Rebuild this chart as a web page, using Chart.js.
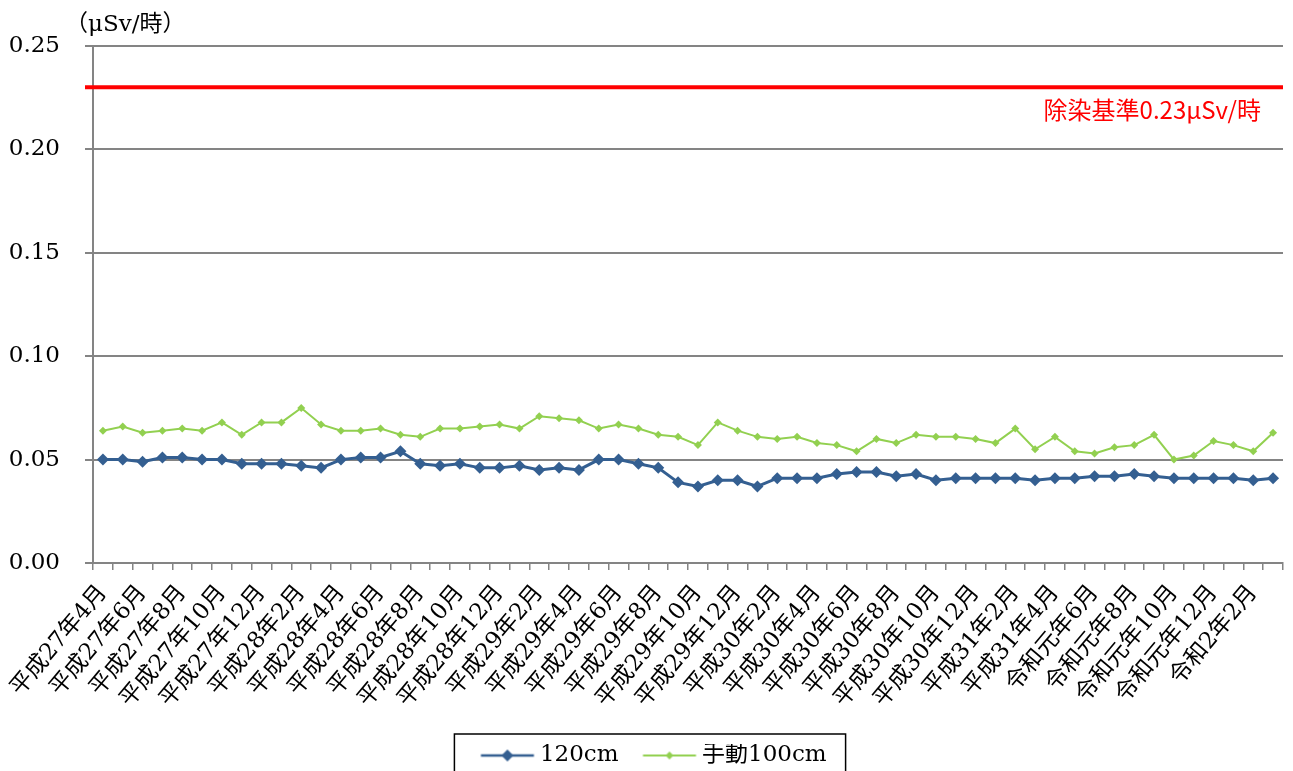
<!DOCTYPE html>
<html lang="ja">
<head>
<meta charset="utf-8">
<title>空間線量率の推移</title>
<script src="https://cdn.jsdelivr.net/npm/chart.js@4.4.1/dist/chart.umd.min.js"></script>
<style>
html, body { margin: 0; padding: 0; background: #fff; }
#wrap { width: 1293px; height: 771px; }
</style>
</head>
<body>
<div id="wrap"><canvas id="dose-chart" width="1293" height="771"></canvas></div>
<script>
// 測定月（平成27年4月〜令和2年3月）
const months = [
    '平成27年4月', '平成27年5月', '平成27年6月', '平成27年7月', '平成27年8月', '平成27年9月',
    '平成27年10月', '平成27年11月', '平成27年12月',
    '平成28年1月', '平成28年2月', '平成28年3月', '平成28年4月', '平成28年5月', '平成28年6月',
    '平成28年7月', '平成28年8月', '平成28年9月', '平成28年10月', '平成28年11月', '平成28年12月',
    '平成29年1月', '平成29年2月', '平成29年3月', '平成29年4月', '平成29年5月', '平成29年6月',
    '平成29年7月', '平成29年8月', '平成29年9月', '平成29年10月', '平成29年11月', '平成29年12月',
    '平成30年1月', '平成30年2月', '平成30年3月', '平成30年4月', '平成30年5月', '平成30年6月',
    '平成30年7月', '平成30年8月', '平成30年9月', '平成30年10月', '平成30年11月', '平成30年12月',
    '平成31年1月', '平成31年2月', '平成31年3月', '平成31年4月',
    '令和元年5月', '令和元年6月', '令和元年7月', '令和元年8月', '令和元年9月', '令和元年10月',
    '令和元年11月', '令和元年12月',
    '令和2年1月', '令和2年2月', '令和2年3月'
];

// 120cm 高さの測定値 (μSv/時)
const dose120 = [
    0.050, 0.050, 0.049, 0.051, 0.051, 0.050, 0.050, 0.048, 0.048, 0.048, 0.047, 0.046, 0.050, 0.051, 0.051,
    0.054, 0.048, 0.047, 0.048, 0.046, 0.046, 0.047, 0.045, 0.046, 0.045, 0.050, 0.050, 0.048, 0.046, 0.039,
    0.037, 0.040, 0.040, 0.037, 0.041, 0.041, 0.041, 0.043, 0.044, 0.044, 0.042, 0.043, 0.040, 0.041, 0.041,
    0.041, 0.041, 0.040, 0.041, 0.041, 0.042, 0.042, 0.043, 0.042, 0.041, 0.041, 0.041, 0.041, 0.040, 0.041
];

// 手動 100cm の測定値 (μSv/時)
const dose100 = [
    0.064, 0.066, 0.063, 0.064, 0.065, 0.064, 0.068, 0.062, 0.068, 0.068, 0.075, 0.067, 0.064, 0.064, 0.065,
    0.062, 0.061, 0.065, 0.065, 0.066, 0.067, 0.065, 0.071, 0.070, 0.069, 0.065, 0.067, 0.065, 0.062, 0.061,
    0.057, 0.068, 0.064, 0.061, 0.060, 0.061, 0.058, 0.057, 0.054, 0.060, 0.058, 0.062, 0.061, 0.061, 0.060,
    0.058, 0.065, 0.055, 0.061, 0.054, 0.053, 0.056, 0.057, 0.062, 0.050, 0.052, 0.059, 0.057, 0.054, 0.063
];

const yTicks = [0, 0.05, 0.10, 0.15, 0.20, 0.25];
const standardLevel = 0.23;
const standardText = '除染基準0.23μSv/時';
const unitText = '（μSv/時）';

const BLUE = '#345f91';
const GREEN = '#92d050';
const GRID = '#848484';
const serif = "'DejaVu Serif', 'Noto Sans CJK JP', serif";

// 凡例用：線＋ひし形マーカーの画像
function legendMarker(color, lineWidth, radius) {
    const c = document.createElement('canvas');
    c.width = 96;
    c.height = 16;
    const g = c.getContext('2d');
    g.strokeStyle = color;
    g.lineWidth = lineWidth;
    g.beginPath();
    g.moveTo(36.5, 8);
    g.lineTo(89.5, 8);
    g.stroke();
    g.fillStyle = color;
    g.beginPath();
    g.moveTo(63, 8 - radius);
    g.lineTo(63 + radius, 8);
    g.lineTo(63, 8 + radius);
    g.lineTo(63 - radius, 8);
    g.closePath();
    g.fill();
    return c;
}

const markers = [legendMarker(BLUE, 2.5, 6), legendMarker(GREEN, 2, 4)];

// 除染基準線、単位、凡例の枠
const decorations = {
    id: 'decorations',
    afterDraw(chart) {
        const { ctx, chartArea, scales } = chart;
        const y = scales.y.getPixelForValue(standardLevel);
        ctx.save();
        ctx.strokeStyle = '#ff0000';
        ctx.lineWidth = 4;
        ctx.beginPath();
        ctx.moveTo(chartArea.left - 8, y);
        ctx.lineTo(chartArea.right, y);
        ctx.stroke();

        ctx.fillStyle = '#ff0000';
        ctx.font = "24px 'Noto Sans CJK JP', sans-serif";
        ctx.textAlign = 'right';
        ctx.textBaseline = 'middle';
        ctx.fillText(standardText, chartArea.right - 22, y + 23);

        ctx.fillStyle = '#000';
        ctx.font = '23px ' + serif;
        ctx.textAlign = 'left';
        ctx.fillText(unitText, chartArea.left - 28, chartArea.top - 21);

        const boxes = chart.legend.legendHitBoxes;
        if (boxes && boxes.length) {
            const first = boxes[0];
            const last = boxes[boxes.length - 1];
            const left = first.left - 2;
            const right = last.left + last.width + 19;
            const top = chart.legend.top - 10;
            ctx.strokeStyle = '#000';
            ctx.lineWidth = 1.5;
            ctx.strokeRect(left, top, right - left, chart.height - top + 10);
        }
        ctx.restore();
    }
};

const ctx = document.getElementById('dose-chart').getContext('2d');
const doseChart = new Chart(ctx, {
    type: 'line',
    data: {
        labels: months,
        datasets: [
            {
                label: '120cm',
                data: dose120,
                borderColor: BLUE,
                backgroundColor: BLUE,
                borderWidth: 3,
                pointStyle: 'rectRot',
                pointRadius: 6,
                pointBorderWidth: 0,
                tension: 0,
                fill: false
            },
            {
                label: '手動100cm',
                data: dose100,
                borderColor: GREEN,
                backgroundColor: GREEN,
                borderWidth: 2,
                pointStyle: 'rectRot',
                pointRadius: 4,
                pointBorderWidth: 0,
                tension: 0,
                fill: false
            }
        ]
    },
    options: {
        responsive: false,
        animation: false,
        layout: { padding: { top: 46, right: 10, left: 0, bottom: -6 } },
        plugins: {
            tooltip: { enabled: false },
            legend: {
                position: 'bottom',
                labels: {
                    usePointStyle: true,
                    pointStyleWidth: 72,
                    padding: 0,
                    color: '#000',
                    font: { family: serif, size: 23 },
                    generateLabels(chart) {
                        const items = Chart.defaults.plugins.legend.labels.generateLabels(chart);
                        items.forEach((item, i) => { item.pointStyle = markers[i]; });
                        return items;
                    }
                }
            }
        },
        scales: {
            x: {
                offset: true,
                grid: {
                    offset: true,
                    drawOnChartArea: false,
                    color: GRID,
                    lineWidth: 1.5,
                    tickLength: 7
                },
                border: { color: GRID, width: 2 },
                ticks: {
                    autoSkip: false,
                    minRotation: 50,
                    maxRotation: 50,
                    padding: 10,
                    color: '#000',
                    font: { family: serif, size: 23 },
                    callback: (value, index) => (index % 2 === 0 ? months[index] : '')
                },
                afterFit(scale) {
                    scale.height = 181;
                    scale.paddingLeft = 0;
                    scale.paddingRight = 0;
                }
            },
            y: {
                min: 0,
                max: 0.25,
                afterBuildTicks(scale) {
                    scale.ticks = yTicks.map(v => ({ value: v }));
                },
                grid: {
                    color: GRID,
                    lineWidth: 2,
                    tickLength: 8
                },
                border: { color: GRID, width: 2 },
                ticks: {
                    padding: 25,
                    color: '#000',
                    font: { family: serif, size: 23 },
                    callback: value => value.toFixed(2)
                },
                afterFit(scale) {
                    scale.width = 93;
                }
            }
        }
    },
    plugins: [decorations]
});
</script>
</body>
</html>
